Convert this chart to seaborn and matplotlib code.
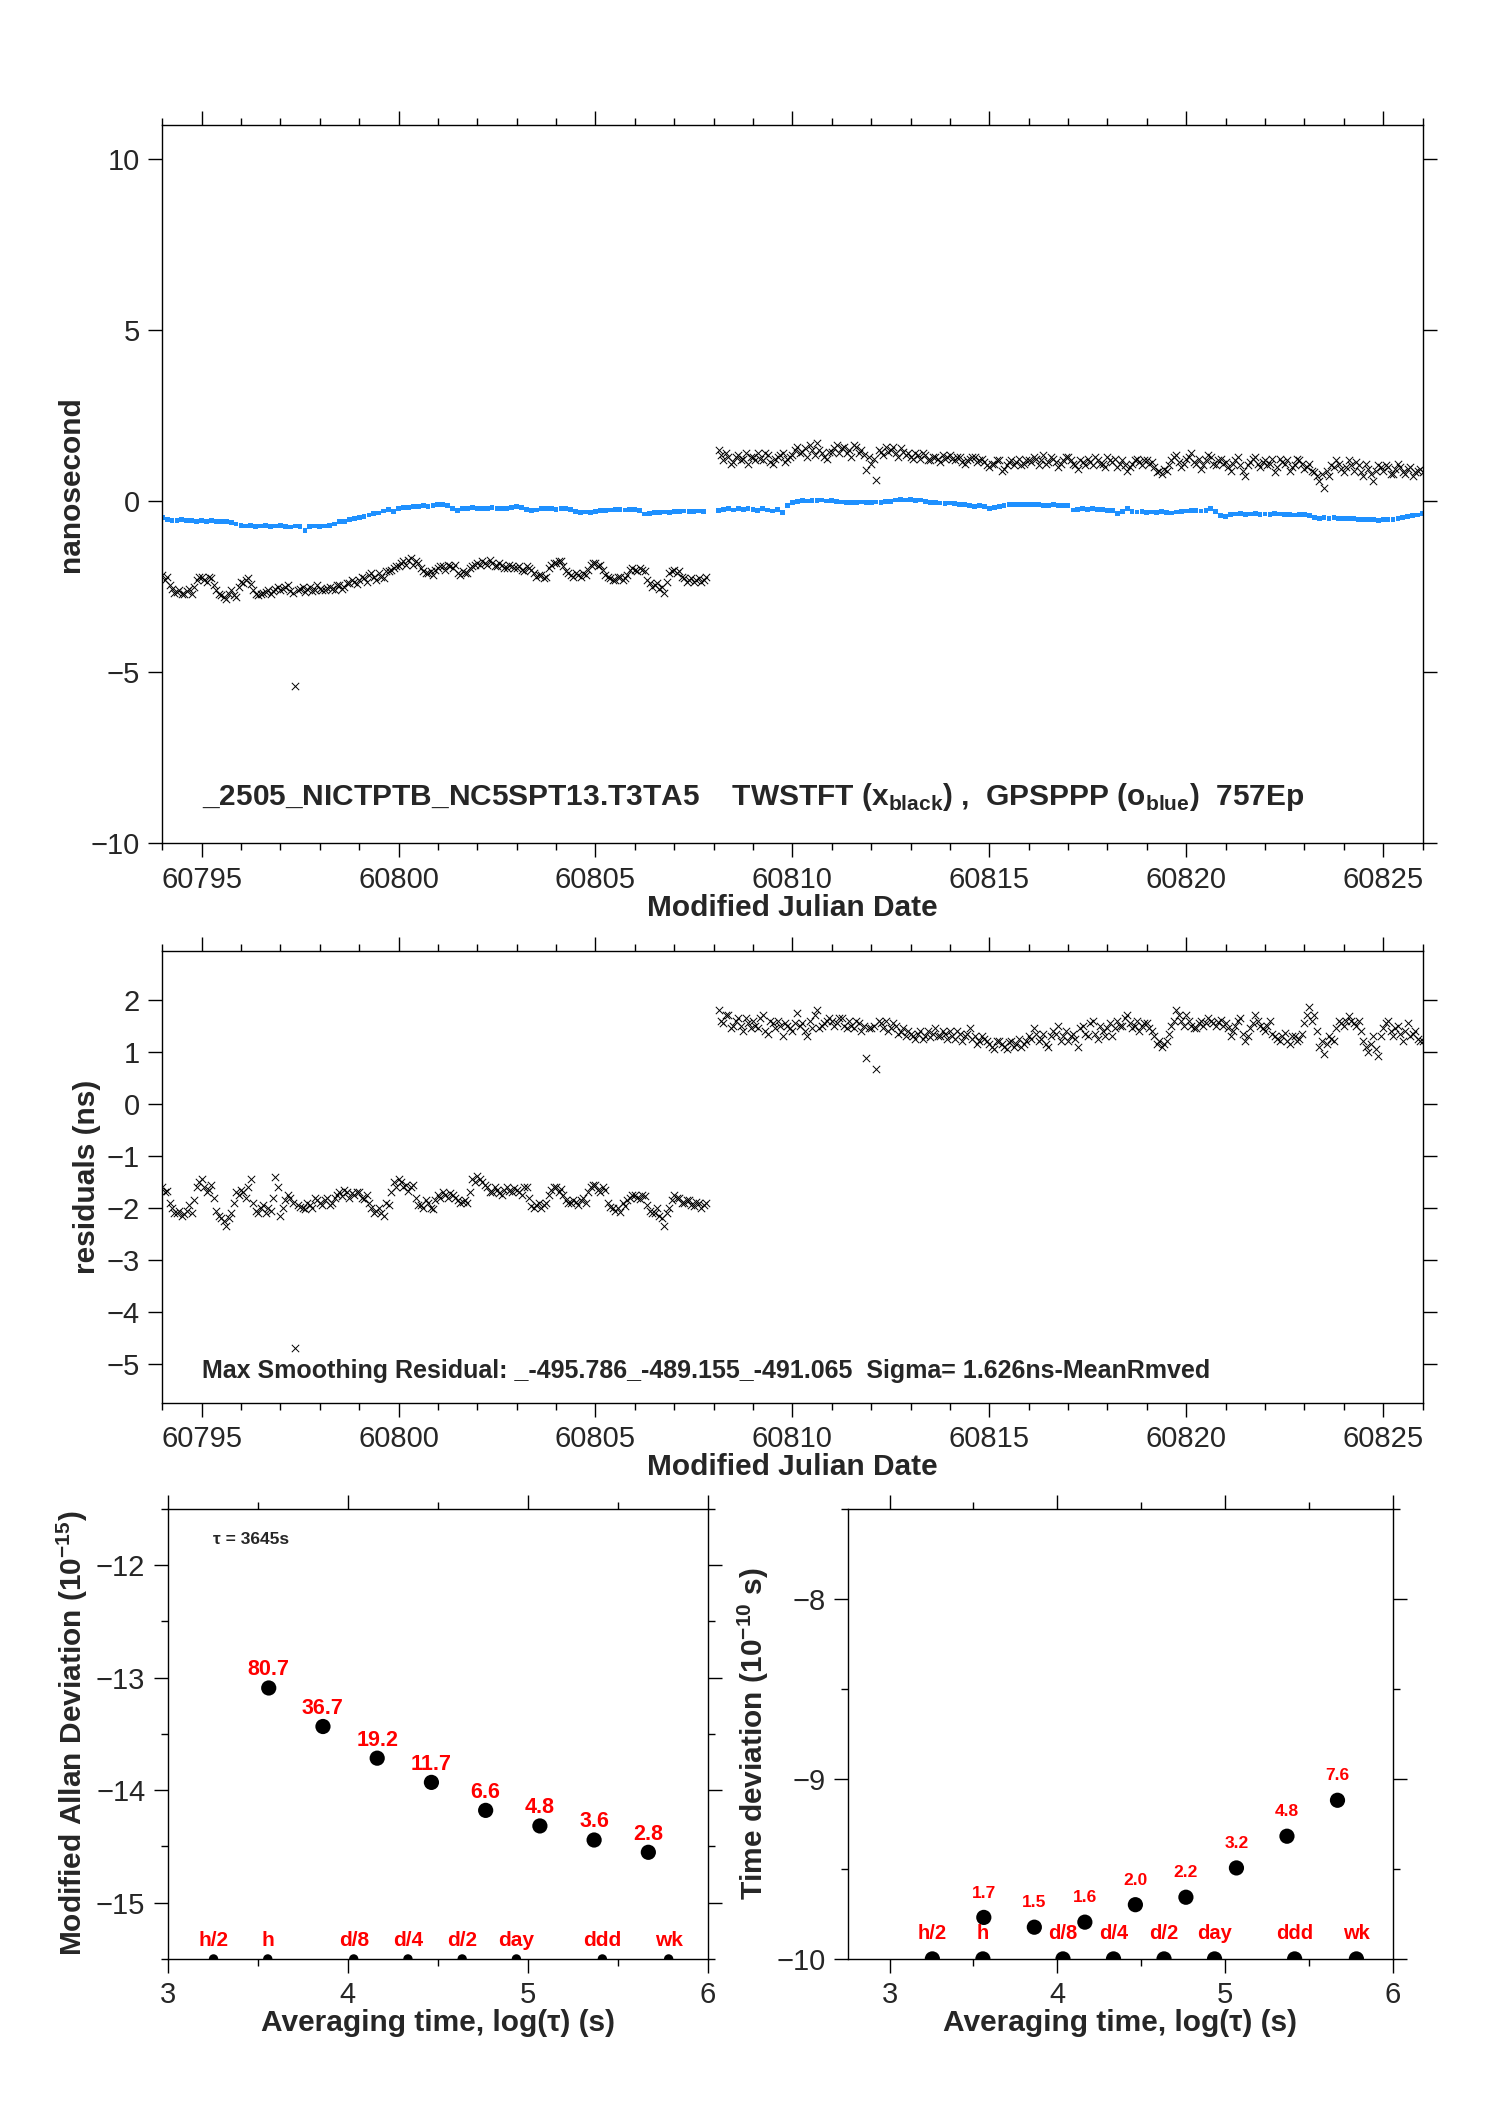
import numpy as np
import pandas as pd
import seaborn as sns
import matplotlib.pyplot as plt
from matplotlib.ticker import MultipleLocator

# time grid of the samples (3-hourly, two segments with a gap);
# the "_b" lists sit half a step later
seg1_start = 60794.0
seg2_start = 60808.125
step_days = 0.125

# TWSTFT (black x), ns
twstft_seg1 = [
    -2.15, -2.2, -2.55, -2.65, -2.7, -2.62, -2.7, -2.3,
    -2.2, -2.35, -2.25, -2.6, -2.75, -2.85, -2.6, -2.8,
    -2.35, -2.3, -2.42, -2.7, -2.72, -2.65, -2.7, -2.55,
    -2.6, -2.5, -2.62, -5.4, -2.55, -2.65, -2.5, -2.6,
    -2.55, -2.6, -2.5, -2.58, -2.45, -2.5, -2.4, -2.35,
    -2.3, -2.25, -2.15, -2.2, -2.1, -2.25, -2.05, -1.95,
    -1.9, -1.75, -1.7, -1.85, -1.8, -2.05, -2.1, -2.15,
    -1.95, -1.9, -1.85, -1.95, -2.1, -2.05, -2.1, -1.9,
    -1.8, -1.75, -1.85, -1.8, -1.9, -1.85, -1.95, -1.9,
    -1.95, -2.0, -1.9, -2.0, -2.2, -2.15, -2.2, -1.85,
    -1.8, -1.75, -2.05, -2.15, -2.1, -2.2, -2.15, -1.85,
    -1.8, -1.85, -2.15, -2.25, -2.3, -2.2, -2.25, -2.0,
    -2.0, -1.95, -2.05, -2.4, -2.45, -2.55, -2.68, -2.1,
    -2.0, -2.05, -2.25, -2.3, -2.35, -2.25, -2.3,
]
twstft_seg1_b = [
    -2.3, -2.45, -2.68, -2.6, -2.72, -2.55, -2.5, -2.2,
    -2.3, -2.2, -2.45, -2.7, -2.8, -2.7, -2.75, -2.5,
    -2.4, -2.25, -2.6, -2.75, -2.68, -2.6, -2.62, -2.5,
    -2.55, -2.45, -2.68, -2.6, -2.5, -2.55, -2.62, -2.45,
    -2.6, -2.52, -2.55, -2.45, -2.55, -2.4, -2.3, -2.42,
    -2.2, -2.35, -2.1, -2.3, -2.2, -2.05, -2.0, -1.9,
    -1.8, -1.85, -1.65, -1.75, -1.95, -2.1, -2.05, -2.0,
    -1.9, -2.0, -1.9, -1.85, -2.15, -2.1, -1.95, -1.85,
    -1.85, -1.8, -1.72, -1.9, -1.8, -1.95, -1.85, -1.95,
    -1.9, -2.05, -1.95, -2.1, -2.15, -2.25, -1.95, -1.8,
    -1.75, -1.9, -2.1, -2.2, -2.15, -2.1, -2.0, -1.8,
    -1.9, -2.0, -2.2, -2.3, -2.2, -2.3, -2.15, -1.95,
    -2.05, -2.0, -2.3, -2.5, -2.4, -2.5, -2.35, -2.05,
    -2.1, -2.2, -2.35, -2.25, -2.3, -2.35, -2.2,
]
twstft_seg2 = [
    1.5, 1.2, 1.3, 1.15, 1.35, 1.25, 1.1,
    1.3, 1.4, 1.2, 1.35, 1.1, 1.3, 1.4, 1.25,
    1.35, 1.6, 1.45, 1.3, 1.5, 1.7, 1.4, 1.25,
    1.45, 1.65, 1.55, 1.4, 1.3, 1.6, 1.5, 0.92,
    1.1, 0.63, 1.45, 1.6, 1.5, 1.4, 1.55, 1.35,
    1.3, 1.4, 1.25, 1.35, 1.2, 1.3, 1.15, 1.25,
    1.35, 1.2, 1.3, 1.1, 1.25, 1.3, 1.2, 1.15,
    1.0, 1.1, 1.2, 0.95, 1.15, 1.05, 1.25, 1.1,
    1.2, 1.3, 1.05, 1.35, 1.15, 1.25, 1.0, 1.2,
    1.3, 1.1, 0.95, 1.15, 1.25, 1.05, 1.2, 1.1,
    1.3, 1.15, 1.0, 1.2, 0.9, 1.1, 1.25, 1.05,
    1.2, 1.15, 0.85, 0.8, 0.9, 1.2, 1.35, 1.0,
    1.25, 1.4, 1.1, 0.95, 1.2, 1.3, 1.05, 1.25,
    1.15, 0.9, 1.2, 1.05, 0.75, 1.15, 1.3, 1.0,
    1.2, 1.1, 0.85, 1.25, 1.1, 0.9, 1.05, 1.2,
    0.95, 1.1, 0.85, 0.6, 0.4, 0.75, 1.0, 1.1,
    0.85, 1.2, 0.9, 1.05, 0.75, 0.95, 0.6, 1.05,
    0.9, 1.0, 0.8, 1.1, 0.85, 0.95, 0.75, 0.9,
    0.85,
]
twstft_seg2_b = [
    1.35, 1.4, 1.1, 1.3, 1.2, 1.4, 1.3,
    1.2, 1.25, 1.4, 1.15, 1.25, 1.35, 1.15, 1.3,
    1.5, 1.4, 1.55, 1.65, 1.35, 1.5, 1.3, 1.45,
    1.55, 1.4, 1.6, 1.5, 1.65, 1.4, 1.35, 1.3,
    1.25, 1.5, 1.35, 1.45, 1.6, 1.3, 1.45, 1.4,
    1.25, 1.35, 1.4, 1.2, 1.3, 1.25, 1.35, 1.3,
    1.25, 1.3, 1.15, 1.2, 1.3, 1.15, 1.25, 1.05,
    1.1, 1.2, 0.9, 1.05, 1.2, 1.15, 1.05, 1.2,
    1.15, 1.25, 1.2, 1.1, 1.3, 1.15, 1.1, 1.3,
    1.2, 1.05, 1.2, 1.05, 1.15, 1.3, 1.1, 1.0,
    1.2, 1.25, 1.1, 1.05, 1.0, 1.2, 1.15, 1.2,
    1.1, 1.0, 0.9, 0.95, 1.05, 1.3, 1.15, 1.1,
    1.3, 1.15, 1.25, 1.05, 1.35, 1.1, 1.2, 1.1,
    1.0, 1.1, 1.3, 0.9, 1.05, 1.25, 1.1, 1.15,
    1.05, 1.25, 1.0, 1.15, 1.2, 1.0, 1.25, 1.1,
    1.0, 0.9, 0.75, 0.8, 0.9, 1.05, 1.2, 0.95,
    1.0, 1.05, 1.15, 0.85, 1.1, 0.8, 0.9, 1.0,
    1.05, 0.8, 0.95, 1.0, 0.8, 1.0, 0.85, 0.95,
]

# GPSPPP (blue), ns
gps_seg1 = [
    -0.46, -0.52, -0.55, -0.56, -0.54, -0.57, -0.55, -0.58,
    -0.56, -0.6, -0.57, -0.59, -0.58, -0.6, -0.62, -0.66,
    -0.7, -0.72, -0.71, -0.73, -0.72, -0.7, -0.74, -0.72,
    -0.71, -0.73, -0.75, -0.72, -0.74, -0.85, -0.73, -0.72,
    -0.74, -0.72, -0.7, -0.66, -0.6, -0.58, -0.52, -0.5,
    -0.47, -0.44, -0.4, -0.36, -0.34, -0.28, -0.24, -0.3,
    -0.2, -0.18, -0.17, -0.15, -0.14, -0.13, -0.15, -0.12,
    -0.1, -0.1, -0.12, -0.2, -0.26, -0.22, -0.2, -0.19,
    -0.21, -0.2, -0.22, -0.19, -0.2, -0.22, -0.2, -0.17,
    -0.16, -0.18, -0.24, -0.26, -0.25, -0.22, -0.21, -0.22,
    -0.23, -0.22, -0.21, -0.24, -0.3, -0.32, -0.31, -0.33,
    -0.3, -0.27, -0.26, -0.25, -0.24, -0.23, -0.25, -0.24,
    -0.24, -0.26, -0.37, -0.36, -0.33, -0.32, -0.31, -0.32,
    -0.3, -0.29, -0.28, -0.3, -0.29, -0.28, -0.3,
]
gps_seg2 = [
    -0.27, -0.24, -0.22, -0.25, -0.21, -0.23, -0.22,
    -0.24, -0.26, -0.22, -0.25, -0.28, -0.24, -0.33, -0.13,
    -0.03, 0.0, 0.02, 0.01, 0.03, 0.02, 0.04, 0.01,
    0.02, 0.0, -0.02, -0.03, -0.04, -0.03, -0.02, -0.04,
    -0.03, -0.02, -0.04, -0.01, 0.0, 0.04, 0.05, 0.04,
    0.05, 0.03, 0.04, 0.0, -0.03, -0.04, -0.05, -0.06,
    -0.05, -0.07, -0.08, -0.1, -0.13, -0.14, -0.13, -0.16,
    -0.2, -0.19, -0.15, -0.12, -0.1, -0.08, -0.09, -0.1,
    -0.08, -0.1, -0.09, -0.11, -0.12, -0.1, -0.13, -0.12,
    -0.13, -0.25, -0.24, -0.22, -0.23, -0.22, -0.24, -0.23,
    -0.26, -0.27, -0.35, -0.3, -0.22, -0.3, -0.31, -0.3,
    -0.32, -0.31, -0.33, -0.3, -0.32, -0.34, -0.31, -0.29,
    -0.28, -0.27, -0.26, -0.28, -0.27, -0.22, -0.3, -0.42,
    -0.45, -0.38, -0.37, -0.36, -0.38, -0.37, -0.36, -0.38,
    -0.37, -0.38, -0.36, -0.37, -0.39, -0.38, -0.4, -0.39,
    -0.38, -0.42, -0.48, -0.49, -0.47, -0.5, -0.48, -0.49,
    -0.5, -0.49, -0.51, -0.52, -0.53, -0.54, -0.53, -0.55,
    -0.54, -0.53, -0.52, -0.5, -0.46, -0.44, -0.42, -0.4,
    -0.36,
]

# residuals, ns
resid_seg1 = [
    -1.6, -1.67, -2.0, -2.1, -2.15, -2.05, -2.1, -1.6,
    -1.45, -1.7, -1.55, -2.05, -2.2, -2.34, -2.1, -1.7,
    -1.65, -1.8, -1.45, -2.05, -2.0, -2.1, -2.05, -1.41,
    -2.16, -1.85, -1.8, -4.7, -1.98, -2.02, -1.95, -1.8,
    -1.9, -1.85, -1.95, -1.8, -1.7, -1.65, -1.8, -1.75,
    -1.7, -1.83, -1.9, -2.1, -2.0, -2.15, -1.95, -1.5,
    -1.45, -1.6, -1.67, -1.55, -1.95, -2.0, -1.9, -2.02,
    -1.75, -1.7, -1.8, -1.75, -1.85, -1.89, -1.9, -1.45,
    -1.38, -1.5, -1.6, -1.7, -1.65, -1.76, -1.6, -1.7,
    -1.65, -1.75, -1.6, -1.96, -1.95, -2.0, -1.9, -1.65,
    -1.6, -1.64, -1.85, -1.9, -1.89, -1.85, -1.9, -1.6,
    -1.55, -1.7, -1.65, -1.98, -2.05, -2.08, -1.96, -1.8,
    -1.76, -1.83, -1.78, -2.05, -2.1, -2.15, -2.34, -2.0,
    -1.75, -1.8, -1.9, -1.85, -1.96, -1.9, -1.95,
]
resid_seg1_b = [
    -1.7, -1.9, -2.1, -2.05, -2.12, -1.95, -1.85, -1.5,
    -1.6, -1.65, -1.8, -2.15, -2.25, -2.2, -1.9, -1.75,
    -1.7, -1.6, -1.9, -2.1, -1.95, -2.0, -1.8, -1.6,
    -2.0, -1.75, -1.9, -1.95, -2.0, -1.9, -2.0, -1.85,
    -1.95, -1.8, -1.9, -1.75, -1.78, -1.7, -1.72, -1.7,
    -1.8, -1.75, -2.0, -2.05, -2.1, -1.9, -1.7, -1.6,
    -1.5, -1.55, -1.6, -1.8, -1.95, -1.85, -2.0, -1.85,
    -1.8, -1.75, -1.72, -1.8, -1.9, -1.85, -1.7, -1.5,
    -1.45, -1.55, -1.7, -1.6, -1.72, -1.65, -1.68, -1.62,
    -1.7, -1.6, -1.8, -2.0, -1.9, -1.95, -1.75, -1.6,
    -1.7, -1.75, -1.9, -1.85, -1.95, -1.8, -1.7, -1.55,
    -1.65, -1.6, -1.9, -2.0, -2.0, -1.9, -1.85, -1.75,
    -1.8, -1.75, -1.95, -2.1, -2.0, -2.2, -2.1, -1.85,
    -1.8, -1.9, -1.85, -1.95, -1.88, -2.0, -1.9,
]
resid_seg2 = [
    1.8, 1.56, 1.7, 1.5, 1.65, 1.4, 1.55,
    1.6, 1.45, 1.7, 1.35, 1.55, 1.6, 1.3, 1.5,
    1.4, 1.75, 1.55, 1.3, 1.45, 1.8, 1.5, 1.6,
    1.6, 1.55, 1.65, 1.45, 1.5, 1.6, 1.4, 0.89,
    1.45, 0.67, 1.55, 1.6, 1.45, 1.5, 1.38, 1.3,
    1.35, 1.25, 1.4, 1.3, 1.28, 1.45, 1.3, 1.35,
    1.4, 1.25, 1.35, 1.3, 1.45, 1.3, 1.2, 1.25,
    1.15, 1.05, 1.2, 1.1, 1.18, 1.1, 1.24, 1.15,
    1.3, 1.45, 1.2, 1.35, 1.1, 1.4, 1.5, 1.3,
    1.2, 1.35, 1.1, 1.5, 1.3, 1.6, 1.25, 1.4,
    1.45, 1.3, 1.6, 1.5, 1.7, 1.45, 1.6, 1.5,
    1.55, 1.4, 1.15, 1.1, 1.2, 1.5, 1.8, 1.6,
    1.7, 1.5, 1.45, 1.6, 1.55, 1.6, 1.5, 1.62,
    1.55, 1.3, 1.5, 1.65, 1.2, 1.45, 1.7, 1.5,
    1.4, 1.6, 1.3, 1.2, 1.37, 1.15, 1.3, 1.25,
    1.56, 1.87, 1.7, 1.1, 0.95, 1.3, 1.2, 1.6,
    1.5, 1.68, 1.55, 1.6, 1.2, 1.0, 1.3, 0.92,
    1.45, 1.6, 1.3, 1.5, 1.2, 1.55, 1.35, 1.25,
    1.2,
]
resid_seg2_b = [
    1.6, 1.7, 1.45, 1.6, 1.5, 1.65, 1.45,
    1.5, 1.65, 1.4, 1.6, 1.45, 1.5, 1.55, 1.45,
    1.55, 1.5, 1.4, 1.6, 1.7, 1.45, 1.55, 1.65,
    1.5, 1.65, 1.5, 1.6, 1.45, 1.55, 1.5, 1.45,
    1.5, 1.6, 1.45, 1.4, 1.55, 1.35, 1.45, 1.4,
    1.3, 1.35, 1.25, 1.4, 1.35, 1.3, 1.4, 1.25,
    1.3, 1.4, 1.2, 1.35, 1.25, 1.15, 1.3, 1.2,
    1.1, 1.2, 1.15, 1.05, 1.2, 1.15, 1.1, 1.2,
    1.25, 1.35, 1.25, 1.15, 1.3, 1.35, 1.2, 1.4,
    1.3, 1.25, 1.45, 1.35, 1.55, 1.35, 1.5, 1.3,
    1.55, 1.45, 1.5, 1.65, 1.55, 1.5, 1.4, 1.55,
    1.45, 1.3, 1.2, 1.15, 1.35, 1.6, 1.7, 1.5,
    1.6, 1.45, 1.55, 1.5, 1.65, 1.55, 1.58, 1.5,
    1.45, 1.4, 1.6, 1.35, 1.3, 1.55, 1.6, 1.45,
    1.5, 1.35, 1.25, 1.3, 1.2, 1.3, 1.2, 1.35,
    1.7, 1.6, 1.4, 1.2, 1.15, 1.25, 1.45, 1.55,
    1.6, 1.6, 1.5, 1.4, 1.1, 1.15, 1.05, 1.3,
    1.55, 1.4, 1.45, 1.35, 1.4, 1.3, 1.4, 1.2,
]

# stability analysis
tau_s = [3645, 7290, 14580, 29160, 58320, 116640, 233280, 466560]
mdev_e15 = [80.7, 36.7, 19.2, 11.7, 6.6, 4.8, 3.6, 2.8]
tdev_e10 = [1.7, 1.5, 1.6, 2.0, 2.2, 3.2, 4.8, 7.6]
ref_names = ["h/2", "h", "d/8", "d/4", "d/2", "day", "ddd", "wk"]
ref_secs = [1800, 3600, 10800, 21600, 43200, 86400, 259200, 604800]

title_txt = (r"_2505_NICTPTB_NC5SPT13.T3TA5    TWSTFT (x$_{\mathbf{black}}$) ,  "
             r"GPSPPP (o$_{\mathbf{blue}}$)  757Ep")
resid_txt = "Max Smoothing Residual: _-495.786_-489.155_-491.065  Sigma= 1.626ns-MeanRmved"

sns.set_theme(style="ticks")
plt.rcParams['font.family'] = ['Liberation Sans', 'DejaVu Sans']
plt.rcParams['mathtext.fontset'] = 'custom'
plt.rcParams['mathtext.rm'] = 'Liberation Sans'
plt.rcParams['mathtext.bf'] = 'Liberation Sans:bold'
plt.rcParams['axes.linewidth'] = 1.0
plt.rcParams['axes.edgecolor'] = 'black'


def grid(start, n):
    return start + step_days * np.arange(n)


ts_a = pd.DataFrame({
    'mjd': np.concatenate([grid(seg1_start, len(twstft_seg1)),
                           grid(seg2_start, len(twstft_seg2))]),
    'tw': twstft_seg1 + twstft_seg2,
    'gps': gps_seg1 + gps_seg2,
    'res': resid_seg1 + resid_seg2,
})
ts_b = pd.DataFrame({
    'mjd': np.concatenate([grid(seg1_start + step_days / 2, len(twstft_seg1_b)),
                           grid(seg2_start + step_days / 2, len(twstft_seg2_b))]),
    'tw': twstft_seg1_b + twstft_seg2_b,
    'res': resid_seg1_b + resid_seg2_b,
})
ts_x = pd.concat([ts_a[['mjd', 'tw', 'res']], ts_b], ignore_index=True)

stab = pd.DataFrame({
    'logtau': np.log10(tau_s),
    'mdev': np.log10(np.array(mdev_e15) * 1e-15),
    'tdev': np.log10(np.array(tdev_e10) * 1e-10),
})
refs = pd.DataFrame({'logtau': np.log10(ref_secs)})

BLUE = '#1E90FF'
TICK_FS = 21
LAB_FS = 21.5

fig = plt.figure(figsize=(14.88, 21.05), dpi=100)


def style_axes(ax):
    ax.tick_params(which='both', direction='out', top=True, right=True,
                   labelsize=TICK_FS, width=1.0, color='black', pad=6)
    ax.tick_params(which='major', length=10)
    ax.tick_params(which='minor', length=5)
    for sp in ax.spines.values():
        sp.set_visible(True)
        sp.set_color('black')


# --- top: raw comparison
ax1 = fig.add_axes([0.109, 0.5993, 0.847, 0.3413])
sns.scatterplot(data=ts_a, x='mjd', y='gps', marker='s', s=12, color=BLUE,
                edgecolor='none', ax=ax1, legend=False)
sns.scatterplot(data=ts_x, x='mjd', y='tw', marker='x', s=28, color='black',
                linewidth=0.7, ax=ax1, legend=False)
ax1.set_xlim(60794, 60826)
ax1.set_ylim(-10, 11)
ax1.xaxis.set_major_locator(MultipleLocator(5))
ax1.xaxis.set_minor_locator(MultipleLocator(1))
ax1.yaxis.set_major_locator(MultipleLocator(5))
style_axes(ax1)
ax1.set_xlabel("Modified Julian Date", fontsize=LAB_FS, fontweight='bold', labelpad=0)
ax1.set_ylabel("nanosecond", fontsize=LAB_FS, fontweight='bold')
ax1.text(60795, -8.65, title_txt, fontsize=21.5, fontweight='bold', va='center')

# --- middle: residuals
ax2 = fig.add_axes([0.109, 0.3335, 0.847, 0.2145])
sns.scatterplot(data=ts_x, x='mjd', y='res', marker='x', s=28, color='black',
                linewidth=0.7, ax=ax2, legend=False)
ax2.set_xlim(60794, 60826)
ax2.set_ylim(-5.75, 2.93)
ax2.xaxis.set_major_locator(MultipleLocator(5))
ax2.xaxis.set_minor_locator(MultipleLocator(1))
ax2.yaxis.set_major_locator(MultipleLocator(1))
style_axes(ax2)
ax2.set_xlabel("Modified Julian Date", fontsize=LAB_FS, fontweight='bold', labelpad=0)
ax2.set_ylabel("residuals (ns)", fontsize=LAB_FS, fontweight='bold')
ax2.text(60795, -5.13, resid_txt, fontsize=18, fontweight='bold', va='center')

# --- bottom left: modified Allan deviation
ax3 = fig.add_axes([0.1126, 0.0694, 0.3632, 0.2139])
sns.scatterplot(data=stab, x='logtau', y='mdev', s=120, color='black',
                edgecolor='none', ax=ax3, legend=False)
ax3.set_xlim(3, 6)
ax3.set_ylim(-15.5, -11.5)
sns.scatterplot(data=refs.assign(y=-15.5), x='logtau', y='y', s=45, color='black',
                edgecolor='none', ax=ax3, legend=False)
for xv, yv, lab in zip(stab['logtau'], stab['mdev'], mdev_e15):
    ax3.annotate(f"{lab:.1f}", (xv, yv), xytext=(0, 13), textcoords='offset points',
                 ha='center', va='center', color='red', fontsize=15.5, fontweight='bold')
for xv, lab in zip(refs['logtau'], ref_names):
    ax3.annotate(lab, (xv, -15.5), xytext=(0, 13.5), textcoords='offset points',
                 ha='center', va='center', color='red', fontsize=15, fontweight='bold')
ax3.text(3.25, -11.77, "τ = 3645s", fontsize=12.5, fontweight='bold', va='center')
ax3.xaxis.set_major_locator(MultipleLocator(1))
ax3.xaxis.set_minor_locator(MultipleLocator(0.5))
ax3.yaxis.set_major_locator(MultipleLocator(1))
ax3.yaxis.set_minor_locator(MultipleLocator(0.5))
style_axes(ax3)
ax3.set_xlabel("Averaging time, log(τ) (s)", fontsize=LAB_FS, fontweight='bold', labelpad=0)
ax3.set_ylabel(r"Modified Allan Deviation (10$^{\mathbf{-15}}$)", fontsize=LAB_FS,
               fontweight='bold')

# --- bottom right: time deviation
ax4 = fig.add_axes([0.5696, 0.0694, 0.3666, 0.2139])
sns.scatterplot(data=stab, x='logtau', y='tdev', s=120, color='black',
                edgecolor='none', ax=ax4, legend=False)
ax4.set_xlim(2.75, 6)
ax4.set_ylim(-10, -7.5)
sns.scatterplot(data=refs.assign(y=-10), x='logtau', y='y', s=120, color='black',
                edgecolor='none', ax=ax4, legend=False)
for xv, yv, lab in zip(stab['logtau'], stab['tdev'], tdev_e10):
    ax4.annotate(f"{lab:.1f}", (xv, yv), xytext=(0, 17.5), textcoords='offset points',
                 ha='center', va='center', color='red', fontsize=12.5, fontweight='bold')
for xv, lab in zip(refs['logtau'], ref_names):
    ax4.annotate(lab, (xv, -10), xytext=(0, 18), textcoords='offset points',
                 ha='center', va='center', color='red', fontsize=14.5, fontweight='bold')
ax4.xaxis.set_major_locator(MultipleLocator(1))
ax4.xaxis.set_minor_locator(MultipleLocator(0.5))
ax4.yaxis.set_major_locator(MultipleLocator(1))
ax4.yaxis.set_minor_locator(MultipleLocator(0.5))
style_axes(ax4)
ax4.set_xlabel("Averaging time, log(τ) (s)", fontsize=LAB_FS, fontweight='bold', labelpad=0)
ax4.set_ylabel(r"Time deviation (10$^{\mathbf{-10}}$ s)", fontsize=LAB_FS,
               fontweight='bold')

fig.savefig("out.png", dpi=100)
